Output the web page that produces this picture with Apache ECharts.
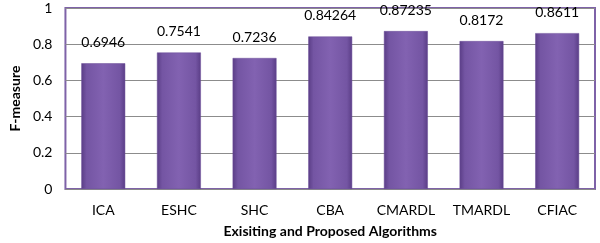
<!DOCTYPE html>
<html>
<head>
<meta charset="utf-8">
<script src="https://cdn.jsdelivr.net/npm/echarts@6/dist/echarts.min.js"></script>
<style>
  html, body { margin: 0; padding: 0; background: #fff; }
  #chart { width: 600px; height: 243px; }
</style>
</head>
<body>
<div id="chart"></div>
<script>
const categories = ['ICA', 'ESHC', 'SHC', 'CBA', 'CMARDL', 'TMARDL', 'CFIAC']
const fMeasure = [0.6946, 0.7541, 0.7236, 0.84264, 0.87235, 0.8172, 0.8611]
const yTicks = { min: 0, max: 1, interval: 0.2 }

const font = 'Lato, "Open Sans", sans-serif'
const chart = echarts.init(document.getElementById('chart'))

chart.setOption({
  animation: false,
  grid: {
    left: 53,
    right: 5,
    top: 8,
    bottom: 51,
    show: true,
    borderColor: '#7e62a8',
    borderWidth: 2
  },
  xAxis: {
    type: 'category',
    data: categories,
    name: 'Exisiting and Proposed Algorithms',
    nameLocation: 'middle',
    nameGap: 35,
    nameTextStyle: { fontFamily: font, fontWeight: 'bold', fontSize: 14, color: '#000' },
    axisTick: { show: false },
    axisLine: { lineStyle: { color: '#8a8a8a' } },
    axisLabel: { fontFamily: font, fontSize: 14, color: '#000', margin: 14, interval: 0 }
  },
  yAxis: {
    type: 'value',
    min: yTicks.min,
    max: yTicks.max,
    interval: yTicks.interval,
    name: 'F-measure',
    nameLocation: 'middle',
    nameGap: 43,
    nameTextStyle: { fontFamily: font, fontWeight: 'bold', fontSize: 14, color: '#000' },
    axisLine: { show: false },
    axisTick: { show: false },
    axisLabel: {
      fontFamily: font,
      fontSize: 14,
      color: '#000',
      margin: 13,
      formatter: v => String(+v.toFixed(1))
    },
    splitLine: { lineStyle: { color: '#8c8c8c', width: 1 } }
  },
  series: [{
    type: 'bar',
    data: fMeasure,
    barWidth: '58%',
    itemStyle: {
      color: new echarts.graphic.LinearGradient(0, 0, 1, 0, [
        { offset: 0, color: '#5a3d86' },
        { offset: 0.12, color: '#7455a3' },
        { offset: 0.5, color: '#8262b1' },
        { offset: 0.88, color: '#7455a3' },
        { offset: 1, color: '#5a3d86' }
      ]),
      borderColor: '#6a4c98',
      borderWidth: 0.5
    },
    label: {
      show: true,
      position: 'top',
      distance: 14,
      fontFamily: font,
      fontSize: 14,
      color: '#000',
      formatter: p => String(p.value)
    }
  }]
})
</script>
</body>
</html>
